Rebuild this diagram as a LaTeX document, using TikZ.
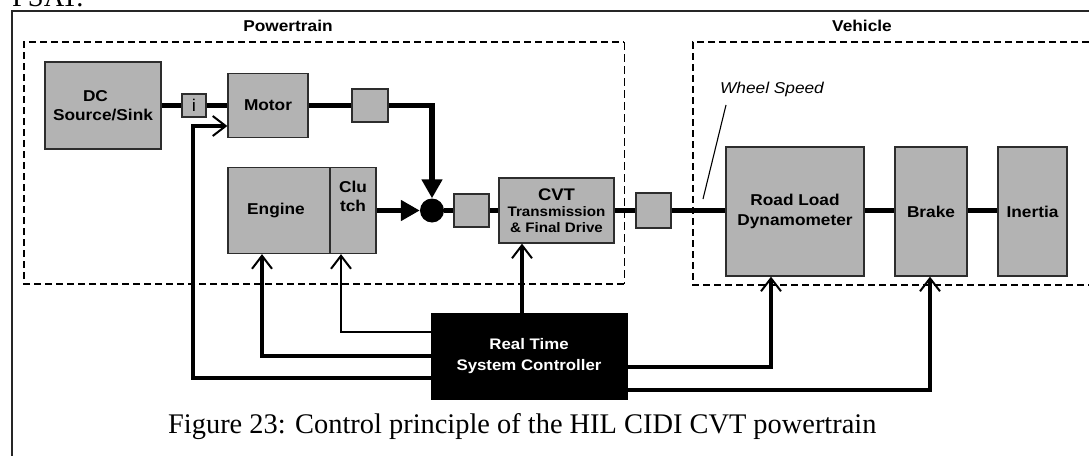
\documentclass[tikz,border=0pt]{standalone}
\usepackage{fontspec}
\setmainfont{Liberation Serif}
\newfontfamily\dfont[FakeStretch=1.1]{Liberation Sans}
\usetikzlibrary{arrows.meta,calc}
\definecolor{boxgray}{RGB}{179,179,179}
\definecolor{edgegray}{RGB}{45,45,45}

\begin{document}
\begin{tikzpicture}[x=1pt,y=-1pt,
  gbox/.style={draw=edgegray,line width=1.3pt,fill=boxgray,inner sep=0pt,align=center,
    font=\dfont\bfseries\fontsize{15.7}{19}\selectfont},
  lbl/.style={inner sep=0pt,align=center,font=\dfont\bfseries\fontsize{15.7}{19}\selectfont},
  shaft/.style={line width=5.5pt,line join=miter},
  pushtip/.style={-{Triangle[length=19pt,width=20pt]}},
  ctl/.style={line width=3.2pt,-{Straight Barb[length=13pt,width=20pt,line width=2pt]}},
  zone/.style={line width=1.5pt,dash pattern=on 7pt off 4pt},
  serifbig/.style={inner sep=0pt,anchor=base west,font=\fontsize{28.4}{34}\selectfont}
]
\useasboundingbox (0,0) rectangle (1089,455);
\clip (0,0) rectangle (1089,455);

% page heading and frame
\node[serifbig] (psat) at (12,6) {PSAT.};
\draw[line width=1.5pt,draw=black!85] (12,470) -- (12,11) -- (1100,11);

% subsystem zones
\draw[zone] (624,284) -- (24,284) -- (24,42) -- (624,42);
\draw[zone,line width=1pt,dash pattern=on 8pt off 4pt] (624,42) -- (624,284);
\draw[zone] (1100,42) -- (693,42) -- (693,285) -- (1100,285);
\node[lbl] (ptlabel) at (288,26) {Powertrain};
\node[lbl] (vehlabel) at (862,26) {Vehicle};

% powertrain components
\node[gbox,minimum width=116pt,minimum height=87pt] (dc) at (103,105.5) {DC\hspace*{15pt}\\Source/Sink};
\node[gbox,minimum width=24pt,minimum height=23pt,font=\dfont\fontsize{17}{20}\selectfont] (ibox) at (194,105.5) {i};
\node[gbox,minimum width=80pt,minimum height=64pt] (motor) at (268,105.5) {Motor};
\node[gbox,minimum width=36pt,minimum height=33pt] (mbox) at (370,105.5) {};
\node[gbox,minimum width=102pt,minimum height=86pt] (engine) at (279,210.5) {Engine\hspace*{6pt}};
\node[gbox,minimum width=46pt,minimum height=86pt] (clutch) at (353,210.5) {};
\node[lbl] (cltxt) at (353,196.5) {Clu\\tch};
\node[circle,fill=black,minimum size=24pt,inner sep=0pt] (jn) at (432,210.5) {};
\node[gbox,minimum width=35pt,minimum height=33pt] (jbox) at (471.5,210.5) {};
\node[gbox,minimum width=115pt,minimum height=65pt,font=\dfont\bfseries\fontsize{13.8}{16}\selectfont] (cvt) at (556.5,210.5)
  {{\fontsize{16.8}{20}\selectfont CVT}\\Transmission\\\& Final Drive};
\node[gbox,minimum width=35pt,minimum height=35pt] (wbox) at (653.5,210.5) {};

% vehicle components
\node[gbox,minimum width=138pt,minimum height=129pt,font=\dfont\bfseries\fontsize{15.7}{20}\selectfont] (road) at (795,211.5) {Road Load\\Dynamometer};
\node[gbox,minimum width=72pt,minimum height=129pt] (brake) at (931,211.5) {Brake};
\node[gbox,minimum width=69pt,minimum height=129pt] (inertia) at (1032.5,211.5) {Inertia};

% controller
\node[draw=black,fill=black,text=white,minimum width=196pt,minimum height=86pt,inner sep=0pt,align=center,
  font=\dfont\bfseries\fontsize{15.3}{21}\selectfont] (ctrl) at (529,356) {Real Time\\System Controller};

% mechanical shafts
\draw[shaft] (dc.east) -- (ibox.west);
\draw[shaft] (ibox.east) -- (motor.west);
\draw[shaft] (motor.east) -- (mbox.west);
\draw[shaft,pushtip] (mbox.east) -- (mbox.east -| jn) -- (jn.north);
\draw[shaft,pushtip] (clutch.east) -- (jn.west);
\draw[shaft] (jn.east) -- (jbox.west);
\draw[shaft] (jbox.east) -- (cvt.west);
\draw[shaft] (cvt.east) -- (wbox.west);
\draw[shaft] (wbox.east) -- (wbox.east -| road.west);
\draw[shaft] (road.east |- wbox) -- (brake.west |- wbox);
\draw[shaft] (brake.east |- wbox) -- (inertia.west |- wbox);

% wheel speed measurement
\node[inner sep=0pt,font=\dfont\itshape\fontsize{15.7}{19}\selectfont] (ws) at (772,89) {Wheel Speed};
\coordinate (wsa) at (726,105);
\coordinate (wsb) at (703,199);
\draw[line width=1.1pt] (wsa) -- (wsb);

% control signal levels and targets
\coordinate (yC) at (0,332);
\coordinate (yE) at (0,356);
\coordinate (yM) at (0,378);
\coordinate (yR) at (0,367);
\coordinate (yB) at (0,390);
\coordinate (tipC) at ([xshift=-12pt]clutch.south);
\coordinate (tipE) at ([xshift=-17pt]engine.south);
\coordinate (tipM) at ([yshift=-20.5pt]motor.west);
\coordinate (kM) at (193,126);
\coordinate (tipV) at ([xshift=-34.5pt]cvt.south);
\coordinate (tipR) at ([xshift=-24pt]road.south);
\coordinate (tipB) at ([xshift=-1pt]brake.south);

% control signals
\draw[ctl,line width=2pt] (ctrl.west |- yC) -| (tipC);
\draw[ctl] (ctrl.west |- yE) -| (tipE);
\draw[ctl] (ctrl.west |- yM) -| (kM) -- (tipM);
\draw[ctl,line width=4pt] (ctrl.north -| tipV) -- (tipV);
\draw[ctl] (ctrl.east |- yR) -| (tipR);
\draw[ctl] (ctrl.east |- yB) -| (tipB);

% caption
\node[serifbig] (cap) at (168,433) {Figure 23: Control principle of the HIL CIDI CVT powertrain};
\end{tikzpicture}
\end{document}
